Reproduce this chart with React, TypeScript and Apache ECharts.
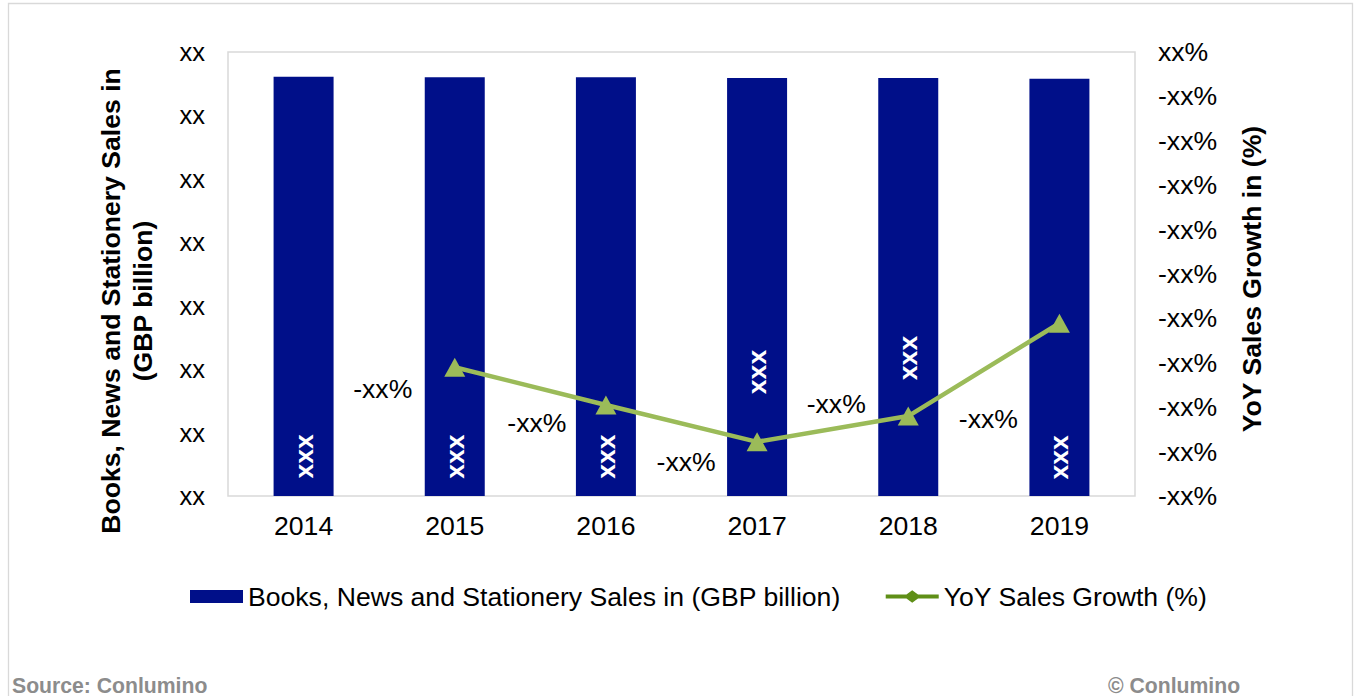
import React, { useEffect, useRef } from "react";
import * as echarts from "echarts";

// ---- Data ----
const years = ["2014", "2015", "2016", "2017", "2018", "2019"];
const salesValues = [6.61, 6.6, 6.6, 6.59, 6.59, 6.58];
const growthValues: (number | null)[] = [null, -7.1, -7.95, -8.78, -8.2, -6.11];
const leftTickLabel = "xx";
const rightTickLabelTop = "xx%";
const rightTickLabel = "-xx%";
const barLabelText = "xxx";
const lineLabelText = "-xx%";

const barSeriesName = "Books, News and Stationery Sales in (GBP billion)";
const lineSeriesName = "YoY Sales Growth (%)";
const leftTitle = "Books, News and Stationery Sales in\n(GBP billion)";
const rightTitle = "YoY Sales Growth in (%)";

// label placement (styling, not data); bar label offsets are in the rotated label frame
const barLabelShift = [170, 170, 170, 85, 71, 170];
const lineLabelOffsets = [[0, 0], [-72, 22], [-69, 18], [-71, 20], [-72, -12], [-71, 96]];

const FONT = '"Liberation Sans", Arial, Helvetica, sans-serif';
const FS = 26.6;
const BAR_COLOR = "#000f89";
const LINE_COLOR = "#9bbb59";
const LEGEND_LINE_COLOR = "#5f8f17";

export default function App() {
  const ref = useRef<HTMLDivElement>(null);

  useEffect(() => {
    document.body.style.margin = "0";
    if (!ref.current) return;
    const chart = echarts.init(ref.current, undefined, { renderer: "svg" });

    const option: any = {
      animation: false,
      backgroundColor: "#ffffff",
      textStyle: { fontFamily: FONT },
      grid: {
        left: 228,
        right: 220,
        top: 52,
        bottom: 200,
        show: true,
        borderColor: "#d9d9d9",
        borderWidth: 1.5,
        backgroundColor: "transparent",
      },
      legend: {
        left: 190,
        top: 583,
        padding: 0,
        itemWidth: 53,
        itemHeight: 13,
        itemGap: 45,
        selectedMode: false,
        textStyle: { fontSize: FS, color: "#000", fontFamily: FONT },
        data: [
          { name: barSeriesName, icon: "rect", itemStyle: { color: BAR_COLOR } },
          {
            name: lineSeriesName,
            icon:
              "path://M0,4.5L21.5,4.5L27.5,0L33.5,4.5L55,4.5L55,8.5L33.5,8.5L27.5,13L21.5,8.5L0,8.5Z",
            itemStyle: { color: LEGEND_LINE_COLOR },
          },
        ],
      },
      xAxis: {
        type: "category",
        data: years,
        axisLine: { show: false },
        axisTick: { show: false },
        axisLabel: { fontSize: FS, color: "#000", margin: 16, fontFamily: FONT },
      },
      yAxis: [
        {
          type: "value",
          min: 0,
          max: 7,
          interval: 1,
          splitLine: { show: false },
          axisLine: { show: false },
          axisTick: { show: false },
          axisLabel: {
            fontSize: 25.5,
            color: "#000",
            margin: 23,
            fontFamily: FONT,
            formatter: () => leftTickLabel,
          },
        },
        {
          type: "value",
          min: -10,
          max: 0,
          interval: 1,
          position: "right",
          splitLine: { show: false },
          axisLine: { show: false },
          axisTick: { show: false },
          axisLabel: {
            fontSize: FS,
            color: "#000",
            margin: 23,
            fontFamily: FONT,
            formatter: (v: number) => (v === 0 ? rightTickLabelTop : rightTickLabel),
          },
        },
      ],
      series: [
        {
          name: barSeriesName,
          type: "bar",
          yAxisIndex: 0,
          barWidth: 60,
          itemStyle: { color: BAR_COLOR },
          data: salesValues.map((v, i) => ({
            value: v,
            label: { offset: [-barLabelShift[i], 0] },
          })),
          label: {
            show: true,
            position: "inside",
            rotate: 90,
            align: "center",
            verticalAlign: "middle",
            color: "#ffffff",
            fontSize: FS,
            fontWeight: "bold",
            fontFamily: FONT,
            formatter: () => barLabelText,
          },
          z: 2,
        },
        {
          name: lineSeriesName,
          type: "line",
          yAxisIndex: 1,
          symbol: "triangle",
          symbolSize: [21, 19],
          itemStyle: { color: LINE_COLOR },
          lineStyle: { color: LINE_COLOR, width: 4.5 },
          data: growthValues.map((v, i) =>
            v === null
              ? "-"
              : { value: v, label: { offset: lineLabelOffsets[i] } }
          ),
          label: {
            show: true,
            position: "inside",
            align: "center",
            verticalAlign: "middle",
            color: "#000",
            fontSize: FS,
            fontFamily: FONT,
            formatter: () => lineLabelText,
          },
          z: 5,
        },
      ],
      graphic: [
        {
          type: "rect",
          silent: true,
          shape: { x: 8.5, y: 3.5, width: 1344, height: 760 },
          style: { fill: "none", stroke: "#d9d9d9", lineWidth: 1.3 },
          z: -1,
        },
        {
          type: "text",
          x: 127,
          y: 301,
          rotation: Math.PI / 2,
          style: {
            text: leftTitle,
            fontSize: FS,
            fontWeight: "bold",
            fontFamily: FONT,
            fill: "#000",
            align: "center",
            verticalAlign: "middle",
            lineHeight: 32,
          },
        },
        {
          type: "text",
          x: 1252,
          y: 279,
          rotation: Math.PI / 2,
          style: {
            text: rightTitle,
            fontSize: FS,
            fontWeight: "bold",
            fontFamily: FONT,
            fill: "#000",
            align: "center",
            verticalAlign: "middle",
          },
        },
        {
          type: "text",
          x: 12,
          y: 685,
          style: {
            text: "Source: Conlumino",
            fontSize: 21.2,
            fontWeight: "bold",
            fontFamily: FONT,
            fill: "#8c8c8c",
            align: "left",
            verticalAlign: "middle",
          },
        },
        {
          type: "text",
          x: 1108,
          y: 685,
          style: {
            text: "© Conlumino",
            fontSize: 21.2,
            fontWeight: "bold",
            fontFamily: FONT,
            fill: "#8c8c8c",
            align: "left",
            verticalAlign: "middle",
          },
        },
      ],
    };

    chart.setOption(option);
    return () => chart.dispose();
  }, []);

  return <div ref={ref} style={{ width: 1355, height: 696 }} />;
}
